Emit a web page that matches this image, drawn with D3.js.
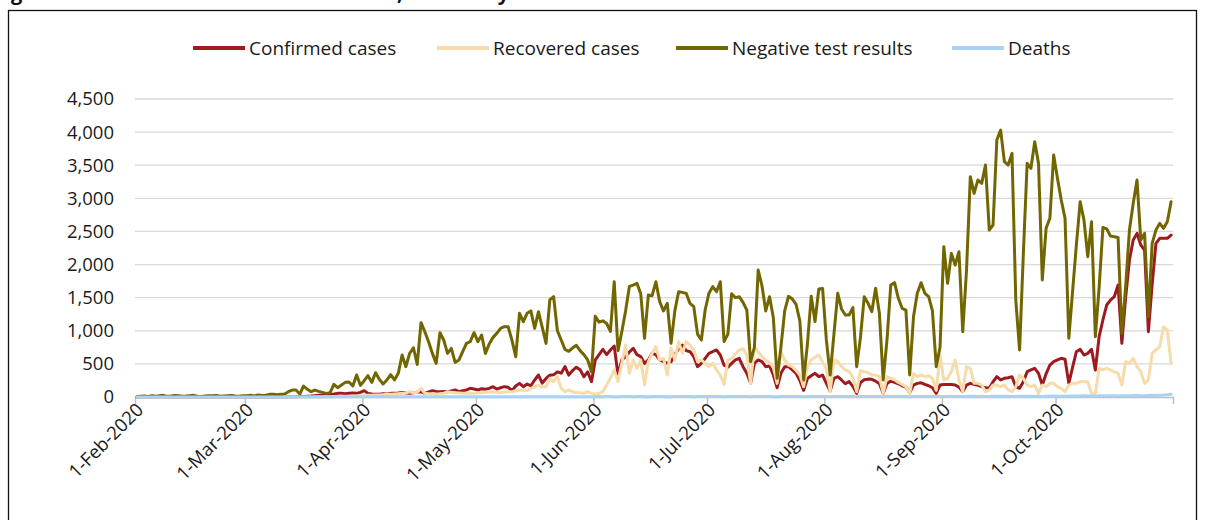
<!DOCTYPE html>
<html><head><meta charset="utf-8">
<script src="https://cdn.jsdelivr.net/npm/d3@7"></script>
<style>body{margin:0;background:#fff}svg{display:block}</style>
</head><body>
<svg id="c" width="1205" height="520"></svg>
<script>
// ---- data ----
const startDate = "2020-02-01";            // first day of the daily series
const axisEnd = "2020-11-01";
const monthTicks = ["2020-02-01","2020-03-01","2020-04-01","2020-05-01","2020-06-01","2020-07-01","2020-08-01","2020-09-01","2020-10-01","2020-11-01"];
const yTicks = [0,500,1000,1500,2000,2500,3000,3500,4000,4500];
const seriesNames = ["Confirmed cases","Recovered cases","Negative test results","Deaths"];
const titleText = "Figure 1: COVID-19 cases and test results, total daily";

const confirmed = [
  // Feb
  0,0,0,0,0,0,0,0,0,0,0,0,0,0,0,0,0,0,0,0,0,0,0,0,0,0,0,0,0,
  // Mar
  0,0,0,0,0,0,0,0,0,0,0,2,3,5,6,8,12,15,20,25,30,35,40,45,55,55,50,55,60,55,70,
  // Apr
  96,55,45,40,40,50,45,55,55,60,70,60,55,65,70,80,55,75,96,85,80,85,80,90,106,80,95,106,131,120,
  // May
  106,126,116,130,156,120,140,156,146,96,166,206,156,196,170,257,332,210,280,330,335,380,360,460,330,400,450,410,307,380,232,
  // Jun
  560,640,720,640,710,770,330,560,610,680,735,640,610,508,560,660,640,560,533,508,533,634,735,785,700,684,609,458,508,584,
  // Jul
  659,684,710,634,480,450,508,559,584,458,360,210,508,559,533,458,468,332,140,357,458,458,408,357,250,100,280,320,357,307,332,
  // Aug
  206,90,282,307,257,200,232,160,55,220,260,270,267,240,200,55,206,240,220,200,170,150,65,180,206,215,190,170,140,55,181,
  // Sep
  190,190,190,181,150,80,181,206,190,181,156,140,131,230,307,257,282,290,307,156,131,230,382,408,433,357,181,350,483,533,
  // Oct
  559,584,570,206,450,684,720,634,659,720,408,911,1163,1389,1464,1515,1691,810,1500,2069,2370,2471,2295,2219,986,1700,2320,2396,2396,2396,2446
];
const recovered = [
  // Feb
  0,0,0,0,0,0,0,0,0,0,0,0,0,0,0,0,0,0,0,0,0,0,0,0,0,0,0,0,0,
  // Mar
  0,0,0,0,0,0,0,0,0,0,0,0,0,0,0,0,0,0,0,0,2,3,5,5,8,10,10,12,15,15,20,
  // Apr
  20,25,25,30,30,35,40,40,45,50,55,60,80,65,70,131,55,50,45,40,50,55,80,70,65,60,55,55,60,55,
  // May
  65,65,70,75,80,70,65,75,80,80,95,106,100,95,131,150,181,150,156,282,232,307,131,80,106,80,65,65,55,80,55,
  // Jun
  45,55,80,181,282,408,232,508,785,357,559,433,559,181,533,659,760,559,584,332,735,559,835,659,835,785,710,533,559,508,
  // Jul
  458,508,408,330,190,560,580,650,710,730,630,200,760,680,609,560,520,450,206,684,560,483,460,400,332,156,458,559,600,634,530,
  // Aug
  420,80,559,533,460,408,382,300,80,400,382,370,332,330,307,55,307,282,260,220,190,156,55,357,307,332,307,320,280,100,634,
  // Sep
  257,282,382,559,257,80,458,433,206,206,181,80,106,181,181,156,181,106,80,156,332,282,181,156,181,55,181,156,206,206,
  // Oct
  156,131,80,181,206,206,231,231,231,55,45,433,408,433,408,380,357,181,533,508,584,458,382,206,257,659,710,760,1062,1012,508
];
const negative = [
  // Feb
  5,10,15,8,20,12,18,25,10,15,22,18,10,14,20,25,12,8,15,20,18,22,10,16,20,24,15,12,18,
  // Mar
  20,25,15,30,22,28,40,40,35,40,45,80,105,105,45,166,116,80,105,85,70,55,65,191,141,181,221,226,166,332,176,
  // Apr
  246,322,221,367,267,196,257,337,257,357,634,458,659,744,493,1122,986,835,659,508,971,860,659,734,523,558,684,810,835,971,
  // May
  835,936,659,800,900,961,1036,1061,1061,860,609,1263,1137,1263,1300,1037,1288,1050,810,1465,1515,1000,860,720,690,740,780,700,640,560,382,
  // Jun
  1220,1130,1150,1110,990,1741,700,986,1300,1670,1690,1716,1560,886,1540,1530,1741,1440,1300,1414,810,1300,1590,1580,1565,1414,1364,950,860,1314,
  // Jul
  1565,1666,1590,1741,835,950,1560,1500,1515,1430,1314,533,750,1918,1680,1300,1515,1200,282,750,1300,1520,1480,1400,1150,257,800,1520,1140,1630,1640,
  // Aug
  861,332,950,1565,1330,1238,1238,1350,458,900,1515,1414,1290,1641,1263,257,860,1691,1726,1490,1339,1313,332,1213,1565,1726,1565,1515,1300,458,750,
  // Sep
  2270,1716,2169,1993,2194,986,1918,3327,3075,3276,3226,3503,2521,2597,3880,4031,3553,3503,3679,1464,710,2169,3528,3453,3855,3528,1767,2547,2698,3654,
  // Oct
  3302,2975,2698,886,1600,2300,2949,2672,2119,2647,911,1650,2560,2540,2430,2420,2410,961,1666,2521,2924,3276,2370,2471,1213,2320,2521,2622,2547,2647,2949
];
const deaths = [
  // Feb
  0,0,0,0,0,0,0,0,0,0,0,0,0,0,0,0,0,0,0,0,0,0,0,0,0,0,0,0,0,
  // Mar
  0,0,0,0,0,0,0,0,0,0,0,0,0,0,0,1,0,1,1,2,1,2,2,3,2,3,2,4,3,3,4,
  // Apr
  4,3,5,4,3,5,4,4,3,5,4,3,4,5,3,4,4,3,5,4,3,4,4,3,5,4,3,3,4,4,
  // May
  3,4,5,4,3,4,5,4,3,4,5,4,3,5,4,4,3,4,5,4,3,4,5,4,3,5,4,4,3,4,3,
  // Jun
  5,6,5,7,6,5,4,6,7,6,5,7,6,5,4,6,7,8,6,5,4,7,6,8,7,6,5,6,7,8,
  // Jul
  7,8,6,7,5,6,8,7,9,8,7,5,8,9,7,8,6,5,4,7,8,9,7,8,6,4,7,8,9,8,7,
  // Aug
  6,4,7,8,7,6,8,7,4,6,8,9,7,8,6,5,7,8,9,8,7,6,5,8,9,8,7,9,8,7,6,
  // Sep
  8,9,10,8,9,6,9,10,11,9,10,8,7,10,11,12,10,11,9,8,10,12,11,13,12,10,9,12,13,14,
  // Oct
  12,13,15,11,14,16,15,17,16,14,13,17,18,16,19,18,15,17,20,19,22,21,18,20,23,25,24,28,30,35,40
];
const seriesColors = ["#9d1a1f","#f6dbab","#726600","#a9d2f6"];

// ---- chart ----
const parse = d3.utcParse("%Y-%m-%d");
const t0 = parse(startDate);
const svg = d3.select("#c");
const font = "'Open Sans', 'Noto Sans', sans-serif";

svg.append("rect").attr("width",1205).attr("height",520).attr("fill","#fff");
// title sits above the visible frame; only its descenders show, as in the reference
svg.append("text").attr("x",-6).attr("y",-0.5).attr("font-family",font).attr("font-weight","bold")
  .attr("font-size",20).attr("fill","#111").text(titleText);
svg.append("rect").attr("x",8.5).attr("y",10.5).attr("width",1188).attr("height",530)
  .attr("fill","none").attr("stroke","#111").attr("stroke-width",1.3);

const x = d3.scaleUtc().domain([parse(startDate), parse(axisEnd)]).range([135, 1173]);
const y = d3.scaleLinear().domain([0, 4500]).range([397, 99]);

// gridlines
svg.append("g").selectAll("line").data(yTicks.filter(v=>v>0)).join("line")
  .attr("x1",135).attr("x2",1173).attr("y1",d=>y(d)).attr("y2",d=>y(d))
  .attr("stroke","#d9d9d9").attr("stroke-width",1.3);

// y axis labels
const ya = svg.append("g").attr("transform","translate(135,0)")
  .call(d3.axisLeft(y).tickValues(yTicks).tickSize(0).tickPadding(21).tickFormat(d3.format(",")));
ya.select(".domain").remove();
ya.selectAll("text").attr("font-family",font).attr("font-size",18.5).attr("fill","#1a1a1a");

// x axis
const fmt = d3.utcFormat("%-d-%b-%Y");
const lastTick = monthTicks[monthTicks.length-1];
const xa = svg.append("g").attr("transform","translate(0,397)")
  .call(d3.axisBottom(x).tickValues(monthTicks.map(parse)).tickSize(7).tickSizeOuter(0)
    .tickFormat(d => fmt(d) === fmt(parse(lastTick)) ? "" : fmt(d)));
xa.select(".domain").attr("stroke","#bfbfbf").attr("stroke-width",1.5);
xa.selectAll(".tick line").attr("stroke","#bfbfbf").attr("stroke-width",1.5);
xa.selectAll("text").attr("font-family",font).attr("font-size",18.5).attr("fill","#1a1a1a")
  .attr("text-anchor","end").attr("dy",0).attr("y",0)
  .attr("transform","translate(9,14) rotate(-45)");

// lines
const dataSets = [confirmed, recovered, negative, deaths];
const line = d3.line()
  .x((v,i) => x(d3.utcHour.offset(d3.utcDay.offset(t0,i),12)))
  .y(v => y(v));
dataSets.forEach((arr,k) => {
  svg.append("path").datum(arr).attr("d",line).attr("fill","none")
    .attr("stroke",seriesColors[k]).attr("stroke-width",3)
    .attr("stroke-linejoin","round").attr("stroke-linecap","round");
});

// legend
const legX = [193, 437, 676, 952];
const lg = svg.append("g");
seriesNames.forEach((name,k) => {
  lg.append("line").attr("x1",legX[k]).attr("x2",legX[k]+52).attr("y1",48).attr("y2",48)
    .attr("stroke",seriesColors[k]).attr("stroke-width",4);
  lg.append("text").attr("x",legX[k]+56).attr("y",55).attr("font-family",font)
    .attr("font-size",19).attr("fill","#1a1a1a").text(name);
});
</script>
</body></html>
